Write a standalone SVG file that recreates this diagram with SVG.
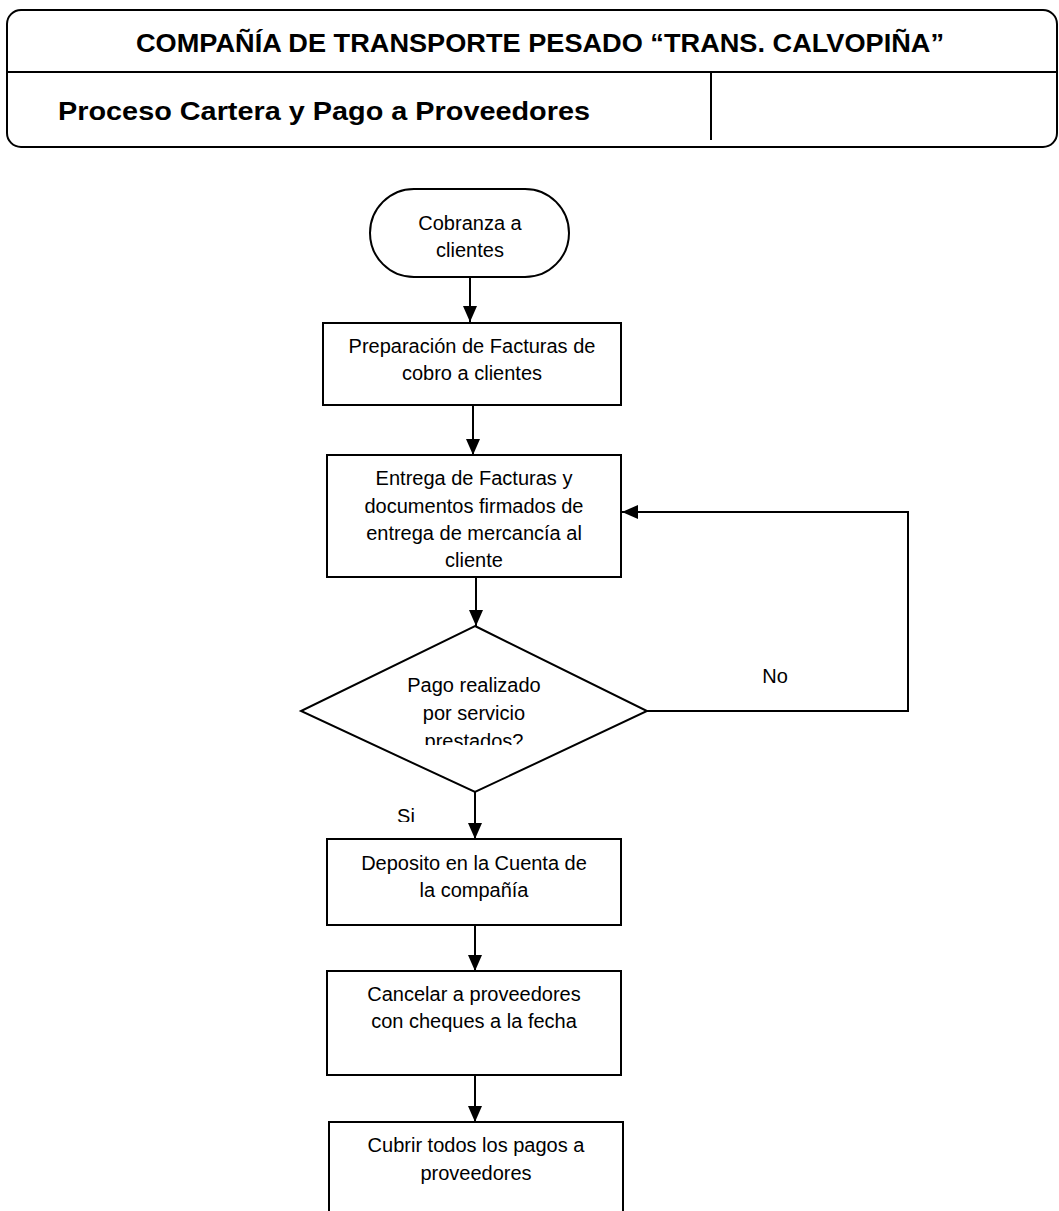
<svg xmlns="http://www.w3.org/2000/svg" width="1059" height="1211" viewBox="0 0 1059 1211">
<style>
.hdr{fill:none;stroke:#000;stroke-width:2}
.nd{fill:#fff;stroke:#000;stroke-width:2}
.t{font-family:"Liberation Sans",Arial,sans-serif;font-size:20px;fill:#000;text-anchor:middle}
.h{font-family:"Liberation Sans",Arial,sans-serif;font-weight:bold;font-size:26px;fill:#000}
.c{fill:none;stroke:#000;stroke-width:2}
</style>
<defs>
<marker id="ah" markerUnits="userSpaceOnUse" markerWidth="16" markerHeight="16" viewBox="0 0 16 16" refX="16" refY="8" orient="auto">
<path d="M0,1 L16,8 L0,15 Z" fill="#000"/>
</marker>
<clipPath id="c3"><rect x="327" y="455" width="294" height="112"/></clipPath>
<clipPath id="cd"><rect x="301" y="626" width="346" height="119"/></clipPath>
<clipPath id="csi"><rect x="390" y="795" width="40" height="27"/></clipPath>
</defs>
<rect fill="#fff" width="1059" height="1211"/>
<g id="header">
<rect class="hdr" x="7" y="10" width="1050" height="137" rx="14"/>
<line class="hdr" x1="7" y1="72" x2="1057" y2="72"/>
<line class="hdr" x1="711" y1="72" x2="711" y2="140"/>
<text class="h" x="136" y="52" textLength="808" lengthAdjust="spacingAndGlyphs">COMPAÑÍA DE TRANSPORTE PESADO “TRANS. CALVOPIÑA”</text>
<text class="h" x="58" y="120" textLength="532" lengthAdjust="spacingAndGlyphs">Proceso Cartera y Pago a Proveedores</text>
</g>
<g id="connectors">
<line class="c" x1="470" y1="277" x2="470" y2="322" marker-end="url(#ah)"/>
<line class="c" x1="473" y1="405" x2="473" y2="455" marker-end="url(#ah)"/>
<line class="c" x1="476" y1="577" x2="476" y2="626" marker-end="url(#ah)"/>
<line class="c" x1="475" y1="792" x2="475" y2="839" marker-end="url(#ah)"/>
<line class="c" x1="475" y1="925" x2="475" y2="971" marker-end="url(#ah)"/>
<line class="c" x1="475" y1="1075" x2="475" y2="1122" marker-end="url(#ah)"/>
<polyline class="c" points="647,711 908,711 908,512 622,512" marker-end="url(#ah)"/>
<text class="t" x="775" y="683">No</text>
<text class="t" x="406" y="823" clip-path="url(#csi)">Si</text>
</g>
<g id="n1">
<rect class="nd" x="370" y="189" width="199" height="88" rx="44"/>
<text class="t" x="470" y="230">Cobranza a</text>
<text class="t" x="470" y="257">clientes</text>
</g>
<g id="n2">
<rect class="nd" x="323" y="323" width="298" height="82"/>
<text class="t" x="472" y="353">Preparación de Facturas de</text>
<text class="t" x="472" y="380">cobro a clientes</text>
</g>
<g id="n3">
<rect class="nd" x="327" y="455" width="294" height="122"/>
<g clip-path="url(#c3)">
<text class="t" x="474" y="485">Entrega de Facturas y</text>
<text class="t" x="474" y="513">documentos firmados de</text>
<text class="t" x="474" y="540">entrega de mercancía al</text>
<text class="t" x="474" y="567">cliente</text>
</g>
</g>
<g id="n4">
<polygon class="nd" points="475,626 647,711 475,792 301,711"/>
<g clip-path="url(#cd)">
<text class="t" x="474" y="692">Pago realizado</text>
<text class="t" x="474" y="720">por servicio</text>
<text class="t" x="474" y="748">prestados?</text>
</g>
</g>
<g id="n5">
<rect class="nd" x="327" y="839" width="294" height="86"/>
<text class="t" x="474" y="870">Deposito en la Cuenta de</text>
<text class="t" x="474" y="897">la compañía</text>
</g>
<g id="n6">
<rect class="nd" x="327" y="971" width="294" height="104"/>
<text class="t" x="474" y="1001">Cancelar a proveedores</text>
<text class="t" x="474" y="1028">con cheques a la fecha</text>
</g>
<g id="n7">
<rect class="nd" x="329" y="1122" width="294" height="100"/>
<text class="t" x="476" y="1152">Cubrir todos los pagos a</text>
<text class="t" x="476" y="1180">proveedores</text>
</g>
</svg>
